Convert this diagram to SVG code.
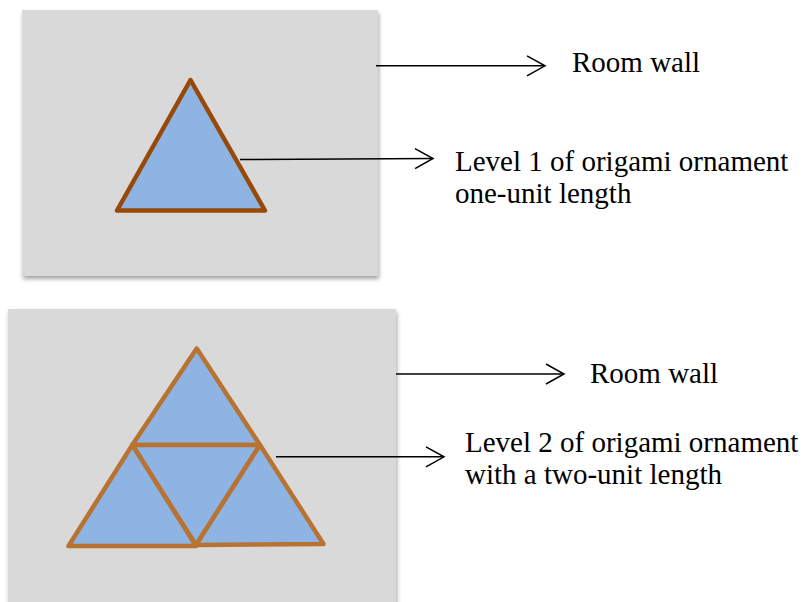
<svg xmlns="http://www.w3.org/2000/svg" width="806" height="602" viewBox="0 0 806 602">
  <style>
    .wall { fill: #D9D9D9; }
    .tri1 { fill: #8EB4E3; stroke: #984807; stroke-width: 4.5; stroke-linejoin: round; }
    .tri2 { fill: #8EB4E3; stroke: #B87333; stroke-width: 4.5; stroke-linejoin: round; }
    .conn { stroke: #000; stroke-width: 1.5; fill: none; }
    .lbl { font-family: "Liberation Serif", "Times New Roman", serif; font-size: 29px; fill: #000; }
  </style>
  <defs>
    <filter id="shadow" x="-5%" y="-5%" width="115%" height="120%">
      <feDropShadow dx="1" dy="3" stdDeviation="2" flood-color="#000" flood-opacity="0.35"/>
    </filter>
    <marker id="arrow" markerUnits="userSpaceOnUse" markerWidth="22" markerHeight="24" refX="19" refY="11" orient="auto">
      <path d="M1,1 L19,11 L1,21" fill="none" stroke="#000" stroke-width="1.5"/>
    </marker>
  </defs>

  <g id="wall1">
    <rect class="wall" x="22" y="10" width="356" height="266" filter="url(#shadow)"/>
  </g>
  <g id="level1">
    <polygon class="tri1" points="190.5,80 117,210.5 265,210.5"/>
  </g>

  <g id="wall2">
    <rect class="wall" x="8" y="309" width="388" height="300" filter="url(#shadow)"/>
  </g>
  <g id="level2">
    <polygon class="tri2" points="196.7,348.5 132.3,445 260,445"/>
    <polygon class="tri2" points="132.3,445 260,445 196,545"/>
    <polygon class="tri2" points="132.3,445 68.5,546 196,546"/>
    <polygon class="tri2" points="260,445 196,545 323.5,544"/>
  </g>

  <g id="connectors">
    <line class="conn" x1="376" y1="65.8" x2="545" y2="65.8" marker-end="url(#arrow)"/>
    <line class="conn" x1="240" y1="159.5" x2="433" y2="158.5" marker-end="url(#arrow)"/>
    <line class="conn" x1="396" y1="374" x2="564" y2="374" marker-end="url(#arrow)"/>
    <line class="conn" x1="276" y1="456.8" x2="444" y2="456.8" marker-end="url(#arrow)"/>
  </g>

  <g id="label-wall1">
    <text class="lbl" x="572" y="72">Room wall</text>
  </g>
  <g id="label-level1">
    <text class="lbl" x="455" y="171">Level 1 of origami ornament</text>
    <text class="lbl" x="455" y="203">one-unit length</text>
  </g>
  <g id="label-wall2">
    <text class="lbl" x="590" y="383">Room wall</text>
  </g>
  <g id="label-level2">
    <text class="lbl" x="465" y="452">Level 2 of origami ornament</text>
    <text class="lbl" x="465" y="484">with a two-unit length</text>
  </g>
</svg>
